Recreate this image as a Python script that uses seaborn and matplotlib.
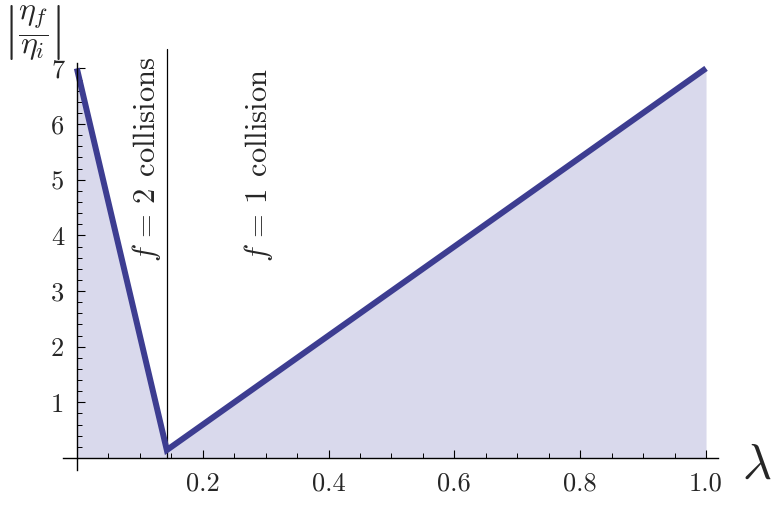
import matplotlib
matplotlib.use("Agg")
import matplotlib.pyplot as plt
import seaborn as sns
import pandas as pd
from matplotlib.ticker import FixedLocator

lam = [0.0, 0.143, 1.0]
ratio = [7.0, 0.143, 7.0]
x_tick_vals = [0.2, 0.4, 0.6, 0.8, 1.0]
x_tick_labels = ["0.2", "0.4", "0.6", "0.8", "1.0"]
x_minor_vals = [0.05, 0.1, 0.15, 0.25, 0.3, 0.35, 0.45, 0.5, 0.55,
                0.65, 0.7, 0.75, 0.85, 0.9, 0.95]
y_tick_vals = [1, 2, 3, 4, 5, 6, 7]
y_tick_labels = ["1", "2", "3", "4", "5", "6", "7"]
y_minor_vals = [0.2, 0.4, 0.6, 0.8, 1.2, 1.4, 1.6, 1.8, 2.2, 2.4, 2.6, 2.8,
                3.2, 3.4, 3.6, 3.8, 4.2, 4.4, 4.6, 4.8, 5.2, 5.4, 5.6, 5.8,
                6.2, 6.4, 6.6, 6.8]
boundary = 0.143
labels = [r"$f\,=\,2\;\,\mathrm{collisions}$", r"$f\,=\,1\;\,\mathrm{collision}$"]
label_x = [0.110, 0.289]

sns.set_style("white")
plt.rcParams["mathtext.fontset"] = "cm"
plt.rcParams["font.family"] = ["cmr10", "DejaVu Serif"]
plt.rcParams["axes.formatter.use_mathtext"] = True

df = pd.DataFrame({"lam": lam, "ratio": ratio})

fig = plt.figure(figsize=(7.76, 5.08), dpi=100)
ax = fig.add_axes([63/776, 38/508, 655/776, 420/508])
ax.set_axisbelow(False)

line_color = "#3d3d91"
fill_color = "#d9d9ec"
ax.fill_between(df["lam"], 0, df["ratio"], color=fill_color, lw=0, zorder=1)
sns.lineplot(data=df, x="lam", y="ratio", ax=ax, color=line_color, lw=4.3,
             solid_joinstyle="miter", solid_capstyle="butt", zorder=3)
ax.plot([boundary, boundary], [0, 7.35], color="black", lw=0.9, zorder=2,
        clip_on=False)

ax.set_xlim(-0.022, 1.019)
ax.set_ylim(-0.215, 7.33)
for s in ["top", "right"]:
    ax.spines[s].set_visible(False)
ax.spines["left"].set_position(("data", 0))
ax.spines["bottom"].set_position(("data", 0))
ax.spines["left"].set_bounds(-0.215, 7.1)
for s in ["left", "bottom"]:
    ax.spines[s].set_linewidth(1.0)
    ax.spines[s].set_color("black")
    ax.spines[s].set_zorder(4)

ax.xaxis.set_major_locator(FixedLocator(x_tick_vals))
ax.set_xticklabels(x_tick_labels)
ax.yaxis.set_major_locator(FixedLocator(y_tick_vals))
ax.set_yticklabels(y_tick_labels)
ax.xaxis.set_minor_locator(FixedLocator(x_minor_vals))
ax.yaxis.set_minor_locator(FixedLocator(y_minor_vals))
ax.tick_params(which="both", bottom=True, left=True, top=False, right=False)
ax.tick_params(which="major", direction="in", length=6, width=0.8, labelsize=19, color="black")
ax.tick_params(which="minor", direction="in", length=3.5, width=0.7, color="black")
ax.tick_params(axis="x", which="major", pad=10)
ax.tick_params(axis="y", which="major", pad=9)
ax.set_xlabel("")
ax.set_ylabel("")

for t, xv in zip(labels, label_x):
    ax.text(xv, 3.52, t, rotation=90, ha="center", va="bottom", fontsize=22, zorder=5)

fig.text(3/776, 1 - 32/508, r"$\left|\dfrac{\eta_f}{\eta_i}\right|$", fontsize=23,
         ha="left", va="center")
fig.text(757/776, 1 - 465/508, r"$\lambda$", fontsize=36, ha="center", va="center")

fig.savefig("out.png", dpi=100)
